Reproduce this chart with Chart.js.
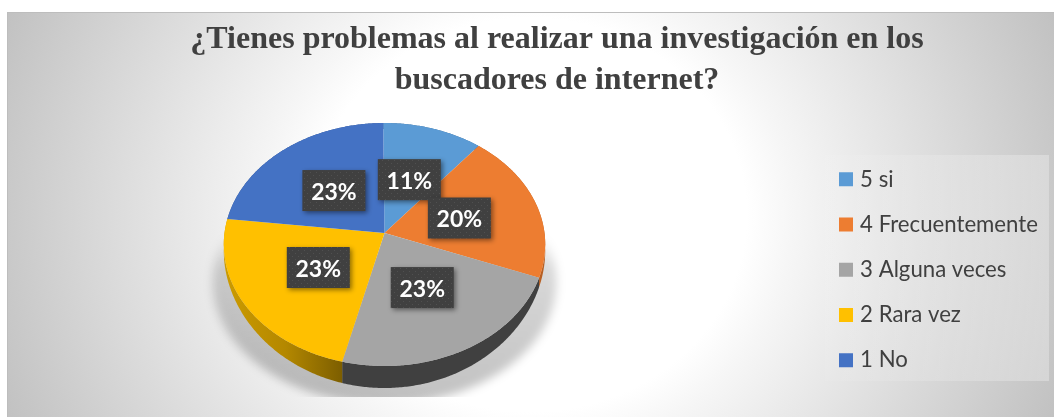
<!DOCTYPE html>
<html><head><meta charset="utf-8">
<style>html,body{margin:0;padding:0;background:#fff;overflow:hidden}canvas{display:block}</style>
<script src="https://cdn.jsdelivr.net/npm/chart.js@4"></script></head>
<body><canvas id="c" width="1054" height="417"></canvas>
<script>
const categories=['5 si','4 Frecuentemente','3 Alguna veces','2 Rara vez','1 No'];
const values=[11,20,23,23,23];
const colors=['#5B9BD5','#ED7D31','#A5A5A5','#FFC000','#4472C4'];
const sideColors=['#3f6d96','#b85f22','#404040',null,'#2f5090'];
const titleLines=['¿Tienes problemas al realizar una investigación en los','buscadores de internet?'];

const K=0.0947, RY=0.7525, LABEL_R=0.49;
function proj(a,cx,cy,r,f=1){const u=Math.cos(a)*f,v=Math.sin(a)*f,d=1-K*v;return [cx+u*r/d,cy+v*r*RY/d];}
function depth(a){return 6+16*Math.pow(Math.max(0,Math.sin(a)),1.5);}
function rim(ctx,a0,a1,cx,cy,r,lower,first){
  const n=Math.max(2,Math.ceil(Math.abs(a1-a0)/0.01));
  for(let i=0;i<=n;i++){const t=a0+(a1-a0)*i/n,p=proj(t,cx,cy,r),dy=lower?depth(t):0;
    if(i===0&&first)ctx.moveTo(p[0],p[1]+dy);else ctx.lineTo(p[0],p[1]+dy);}
}
const pie3d={id:'pie3d',
  beforeDraw(ch){const c=ch.ctx;
    c.save();c.beginPath();c.rect(7,12,1047,405);c.clip();
    c.translate(530,215);c.scale(1,1/1.1);
    const g=c.createRadialGradient(0,0,0,0,0,570);
    g.addColorStop(0,'#ffffff');g.addColorStop(.38,'#ffffff');g.addColorStop(.46,'#f6f6f6');g.addColorStop(1,'#c1c1c1');
    c.fillStyle=g;c.fillRect(-600,-300,1200,600);c.restore();
    c.fillStyle='#bdbdbd';c.fillRect(7,12,1047,1);c.fillRect(7,12,1,405);
    const o=c.createLinearGradient(825,0,1049,0);
    o.addColorStop(0,'rgba(255,255,255,.04)');o.addColorStop(1,'rgba(255,255,255,.29)');
    c.fillStyle=o;c.fillRect(825,155,224,226);
  },
  afterLayout(ch){
    const cx=384.5,cy=233,r=160;
    ch.chartArea={left:cx-r,right:cx+r,top:cy-r,bottom:cy+r,width:2*r,height:2*r};
    const l=ch.legend,pad=l.options.labels.padding,h=l.height;
    l.left=843-pad;l.right=l.left+l.width;
    l.top=86;l.bottom=l.top+h;
  },
  beforeDatasetDraw(ch,args){
    const c=ch.ctx,arcs=args.meta.data;const {x:cx,y:cy,outerRadius:r}=arcs[0];
    c.save();
    c.beginPath();c.rect(180,200,420,197);c.clip();
    c.filter='blur(5px)';
    const sg=c.createLinearGradient(0,235,0,395);
    sg.addColorStop(0,'rgba(0,0,0,0)');sg.addColorStop(.2,'rgba(0,0,0,.15)');sg.addColorStop(1,'rgba(0,0,0,.24)');
    c.fillStyle=sg;c.beginPath();c.ellipse(cx,282,172,122,0,0,Math.PI*2);c.fill();
    c.restore();
    arcs.forEach((a,i)=>{
      c.beginPath();rim(c,a.startAngle,a.endAngle,cx,cy,r,false,true);rim(c,a.endAngle,a.startAngle,cx,cy,r,true,false);c.closePath();
      if(sideColors[i]) c.fillStyle=sideColors[i];
      else{const g=c.createLinearGradient(225,0,345,0);g.addColorStop(0,'#cc9b00');g.addColorStop(.5,'#b48800');g.addColorStop(1,'#7a5c00');c.fillStyle=g;}
      c.fill();
    });
    arcs.forEach((a,i)=>{
      c.beginPath();c.moveTo(cx,cy);rim(c,a.startAngle,a.endAngle,cx,cy,r,false,false);c.closePath();
      c.fillStyle=colors[i];c.fill();
    });
    return false;
  },
  afterDatasetsDraw(ch){
    const c=ch.ctx,arcs=ch.getDatasetMeta(0).data;
    const pc=document.createElement('canvas');pc.width=pc.height=6;const q=pc.getContext('2d');
    q.fillStyle='#404040';q.fillRect(0,0,6,6);q.fillStyle='#505050';q.fillRect(1,1,1,1);q.fillRect(4,4,1,1);
    const pat=c.createPattern(pc,'repeat');
    const total=values.reduce((s,v)=>s+v,0);
    arcs.forEach(a=>{
      const m=(a.startAngle+a.endAngle)/2,p=proj(m,a.x,a.y,a.outerRadius,LABEL_R);
      c.save();c.shadowColor='rgba(0,0,0,.45)';c.shadowBlur=5;c.shadowOffsetX=2;c.shadowOffsetY=2;
      c.fillStyle=pat;c.fillRect(p[0]-31.5,p[1]-20.5,63,41);c.restore();
    });
    arcs.forEach((a,i)=>{
      const m=(a.startAngle+a.endAngle)/2,p=proj(m,a.x,a.y,a.outerRadius,LABEL_R);
      c.fillStyle='#fff';c.font='bold 23px Lato';c.textAlign='center';c.textBaseline='middle';
      c.fillText(Math.round(values[i]/total*100)+'%',p[0],p[1]+2);
    });
  }
};
new Chart(document.getElementById('c'),{
  type:'pie',
  data:{labels:categories,datasets:[{data:values,backgroundColor:colors,borderWidth:0}]},
  plugins:[pie3d],
  options:{responsive:false,animation:false,rotation:-0.5,
    layout:{padding:{left:68,top:19.5,right:8,bottom:30}},
    plugins:{
      tooltip:{enabled:false},
      title:{display:true,text:titleLines,color:'#404040',align:'center',padding:{top:0,bottom:0},
        font:{family:'"Liberation Serif"',size:32,weight:'bold',lineHeight:1.28}},
      legend:{position:'right',align:'center',
        labels:{color:'#404040',boxWidth:6,boxHeight:6,padding:23,font:{family:'Lato',size:22.2},
          generateLabels(chart){
            return Chart.overrides.doughnut.plugins.legend.labels.generateLabels(chart)
              .map(l=>({...l,strokeStyle:l.fillStyle,lineWidth:8}));
          }}}
    }}
});
</script></body></html>
